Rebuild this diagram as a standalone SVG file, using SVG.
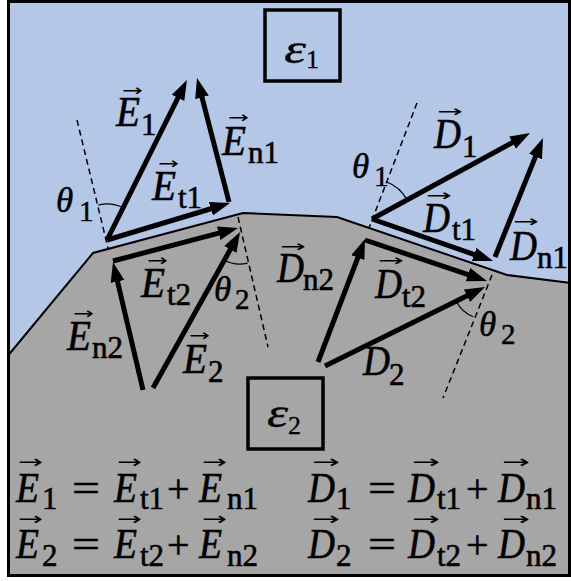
<svg xmlns="http://www.w3.org/2000/svg" width="571" height="581" viewBox="0 0 571 581">
<style>
.m{font-family:"Liberation Serif","DejaVu Serif",serif;font-style:italic;font-size:43px;fill:#000;stroke:#000;stroke-width:0.6}
.t{font-family:"Liberation Serif","DejaVu Serif",serif;font-style:italic;font-size:35px;fill:#000;stroke:#000;stroke-width:0.5}
.s{font-family:"Liberation Serif","DejaVu Serif",serif;font-style:normal;font-size:31px}
.a{font-family:"DejaVu Sans","Liberation Sans",sans-serif;font-style:normal;font-size:16px;stroke:none}
.a2{font-family:"DejaVu Sans","Liberation Sans",sans-serif;font-style:normal;font-size:18px;stroke:none}
.O{font-family:"Liberation Serif","DejaVu Serif",serif;font-style:normal;font-size:40px;fill:#000;stroke:#000;stroke-width:0.5}
.vec{stroke:#000;stroke-width:5;fill:none;marker-end:url(#ah)}
.dash{stroke:#000;stroke-width:1.5;stroke-dasharray:6 4;fill:none}
.arc{stroke:#000;stroke-width:1.2;fill:none}
.box{fill:none;stroke:#000;stroke-width:3.5}
</style>
<defs>
<marker id="ah" markerUnits="userSpaceOnUse" markerWidth="22" markerHeight="16" refX="8" refY="7" orient="auto">
<path d="M0,0 L20,7 L0,14 z" fill="#000"/>
</marker>
</defs>
<rect x="8.5" y="1.5" width="561" height="574" fill="#b4c7e7"/>
<polygon points="8.5,355 93,253 243,213 337,217 507,275 571,283 571,576 8.5,576" fill="#a6a6a6" stroke="none"/>
<polyline points="8.5,355 93,253 243,213 337,217 507,275 571,283" fill="none" stroke="#000" stroke-width="2"/>
<rect x="8.5" y="1.5" width="561" height="574" fill="none" stroke="#000" stroke-width="3"/>

<g id="eps1">
<rect class="box" x="265" y="10" width="75" height="71"/>
<text class="m" style="font-size:43px;stroke-width:0.3"><tspan x="284" y="63" textLength="22" lengthAdjust="spacingAndGlyphs">ε</tspan><tspan class="s" x="306" y="68" style="font-size:26px">1</tspan></text>
</g>
<g id="eps2">
<rect class="box" x="248" y="378" width="75" height="71"/>
<text class="m" style="font-size:43px;stroke-width:0.3"><tspan x="267" y="427" textLength="21" lengthAdjust="spacingAndGlyphs">ε</tspan><tspan class="s" x="288" y="434" style="font-size:26px">2</tspan></text>
</g>

<g id="guides">
<line class="dash" x1="77" y1="120" x2="108" y2="248"/>
<line class="dash" x1="238" y1="217" x2="268" y2="347"/>
<line class="dash" x1="417" y1="103" x2="369" y2="228"/>
<line class="dash" x1="492" y1="275" x2="443" y2="398"/>
<path class="arc" d="M98.3,205.1 A36,36 0 0 1 123.1,207.8"/>
<path class="arc" d="M223.4,259.7 A34,34 0 0 0 247.6,263.1"/>
<path class="arc" d="M386.4,181.7 A40,40 0 0 1 407.1,199.9"/>
<path class="arc" d="M456.3,301.2 A32,32 0 0 0 473.2,316.7"/>
</g>

<g id="connectors">
<line id="E1" class="vec" x1="107" y1="240" x2="181.6" y2="90.7"/>
<line id="En1" class="vec" x1="229" y1="202" x2="200" y2="89.6"/>
<line id="Et1" class="vec" x1="107" y1="240" x2="218.5" y2="206.5"/>
<line id="Et2" class="vec" x1="113" y1="261" x2="226.4" y2="231.1"/>
<line id="En2" class="vec" x1="143" y1="390" x2="115.7" y2="273.7"/>
<line id="E2" class="vec" x1="153" y1="388" x2="234.2" y2="242.5"/>
<line id="D1" class="vec" x1="372" y1="219" x2="519.5" y2="138.7"/>
<line id="Dn1" class="vec" x1="495" y1="257" x2="538.5" y2="149.1"/>
<line id="Dt1" class="vec" x1="372" y1="219" x2="481.7" y2="257.1"/>
<line id="Dn2" class="vec" x1="318" y1="362" x2="360.7" y2="250.2"/>
<line id="Dt2" class="vec" x1="365" y1="240" x2="475.6" y2="277.2"/>
<line id="D2" class="vec" x1="325" y1="366" x2="474.2" y2="292.3"/>
</g>

<g id="labels">
<text id="lE1" class="m"><tspan class="a" x="122" y="96" textLength="21" lengthAdjust="spacingAndGlyphs">→</tspan><tspan x="116" y="126" textLength="24" lengthAdjust="spacingAndGlyphs">E</tspan><tspan class="s" x="141" y="135">1</tspan></text>
<text id="lEn1" class="m"><tspan class="a" x="228" y="123" textLength="21" lengthAdjust="spacingAndGlyphs">→</tspan><tspan x="222" y="155" textLength="24" lengthAdjust="spacingAndGlyphs">E</tspan><tspan class="s" x="248" y="163">n1</tspan></text>
<text id="lEt1" class="m"><tspan class="a" x="158" y="169" textLength="21" lengthAdjust="spacingAndGlyphs">→</tspan><tspan x="152" y="200" textLength="24" lengthAdjust="spacingAndGlyphs">E</tspan><tspan class="s" x="178" y="208">t1</tspan></text>
<text id="lth1L" class="t"><tspan x="56" y="212">θ</tspan><tspan class="s" x="79" y="221" style="font-size:29px">1</tspan></text>
<text id="lEt2" class="m"><tspan class="a" x="147" y="266" textLength="21" lengthAdjust="spacingAndGlyphs">→</tspan><tspan x="141" y="297" textLength="24" lengthAdjust="spacingAndGlyphs">E</tspan><tspan class="s" x="167" y="305">t2</tspan></text>
<text id="lth2L" class="t"><tspan x="214" y="301">θ</tspan><tspan class="s" x="235" y="309" style="font-size:29px">2</tspan></text>
<text id="lEn2" class="m"><tspan class="a" x="73" y="319" textLength="21" lengthAdjust="spacingAndGlyphs">→</tspan><tspan x="67" y="350" textLength="24" lengthAdjust="spacingAndGlyphs">E</tspan><tspan class="s" x="92" y="358">n2</tspan></text>
<text id="lE2" class="m"><tspan class="a" x="189" y="341" textLength="21" lengthAdjust="spacingAndGlyphs">→</tspan><tspan x="183" y="373" textLength="24" lengthAdjust="spacingAndGlyphs">E</tspan><tspan class="s" x="208" y="382">2</tspan></text>
<text id="lD1" class="m"><tspan class="a" x="437" y="117" textLength="26" lengthAdjust="spacingAndGlyphs">→</tspan><tspan x="434" y="148" textLength="27" lengthAdjust="spacingAndGlyphs">D</tspan><tspan class="s" x="462" y="157">1</tspan></text>
<text id="lth1R" class="t"><tspan x="352" y="178">θ</tspan><tspan class="s" x="374" y="186" style="font-size:29px">1</tspan></text>
<text id="lDt1" class="m"><tspan class="a" x="426" y="201" textLength="26" lengthAdjust="spacingAndGlyphs">→</tspan><tspan x="423" y="232" textLength="27" lengthAdjust="spacingAndGlyphs">D</tspan><tspan class="s" x="452" y="240">t1</tspan></text>
<text id="lDn1" class="m"><tspan class="a" x="513" y="227" textLength="26" lengthAdjust="spacingAndGlyphs">→</tspan><tspan x="510" y="260" textLength="27" lengthAdjust="spacingAndGlyphs">D</tspan><tspan class="s" x="537" y="268">n1</tspan></text>
<text id="lDn2" class="m"><tspan class="a" x="280" y="252" textLength="26" lengthAdjust="spacingAndGlyphs">→</tspan><tspan x="277" y="282" textLength="27" lengthAdjust="spacingAndGlyphs">D</tspan><tspan class="s" x="303" y="290">n2</tspan></text>
<text id="lDt2" class="m"><tspan class="a" x="378" y="266" textLength="26" lengthAdjust="spacingAndGlyphs">→</tspan><tspan x="375" y="298" textLength="27" lengthAdjust="spacingAndGlyphs">D</tspan><tspan class="s" x="402" y="307">t2</tspan></text>
<text id="lth2R" class="t"><tspan x="479" y="336">θ</tspan><tspan class="s" x="501" y="344" style="font-size:29px">2</tspan></text>
<text id="lD2" class="m"><tspan x="363" y="375" textLength="27" lengthAdjust="spacingAndGlyphs">D</tspan><tspan class="s" x="389" y="385">2</tspan></text>
</g>

<g id="equations">
<text class="m"><tspan class="a2" x="18" y="468" textLength="25" lengthAdjust="spacingAndGlyphs">→</tspan><tspan x="16" y="502" textLength="23" lengthAdjust="spacingAndGlyphs">E</tspan><tspan class="s" x="42" y="509">1</tspan></text>
<text class="O" x="72" y="502" textLength="28" lengthAdjust="spacingAndGlyphs">=</text>
<text class="m"><tspan class="a2" x="117" y="468" textLength="25" lengthAdjust="spacingAndGlyphs">→</tspan><tspan x="114" y="502" textLength="23" lengthAdjust="spacingAndGlyphs">E</tspan><tspan class="s" x="140" y="509">t1</tspan></text>
<text class="O" x="167" y="502">+</text>
<text class="m"><tspan class="a2" x="202" y="468" textLength="25" lengthAdjust="spacingAndGlyphs">→</tspan><tspan x="199" y="502" textLength="23" lengthAdjust="spacingAndGlyphs">E</tspan><tspan class="s" x="227" y="509">n1</tspan></text>
<text class="m"><tspan class="a2" x="312" y="468" textLength="28" lengthAdjust="spacingAndGlyphs">→</tspan><tspan x="308" y="502" textLength="27" lengthAdjust="spacingAndGlyphs">D</tspan><tspan class="s" x="336" y="509">1</tspan></text>
<text class="O" x="368" y="502" textLength="28" lengthAdjust="spacingAndGlyphs">=</text>
<text class="m"><tspan class="a2" x="412" y="468" textLength="28" lengthAdjust="spacingAndGlyphs">→</tspan><tspan x="408" y="502" textLength="27" lengthAdjust="spacingAndGlyphs">D</tspan><tspan class="s" x="437" y="509">t1</tspan></text>
<text class="O" x="466" y="502">+</text>
<text class="m"><tspan class="a2" x="502" y="468" textLength="28" lengthAdjust="spacingAndGlyphs">→</tspan><tspan x="498" y="502" textLength="27" lengthAdjust="spacingAndGlyphs">D</tspan><tspan class="s" x="526" y="509">n1</tspan></text>

<text class="m"><tspan class="a2" x="18" y="525" textLength="25" lengthAdjust="spacingAndGlyphs">→</tspan><tspan x="16" y="558" textLength="23" lengthAdjust="spacingAndGlyphs">E</tspan><tspan class="s" x="42" y="566">2</tspan></text>
<text class="O" x="72" y="558" textLength="28" lengthAdjust="spacingAndGlyphs">=</text>
<text class="m"><tspan class="a2" x="117" y="525" textLength="25" lengthAdjust="spacingAndGlyphs">→</tspan><tspan x="114" y="558" textLength="23" lengthAdjust="spacingAndGlyphs">E</tspan><tspan class="s" x="140" y="566">t2</tspan></text>
<text class="O" x="167" y="558">+</text>
<text class="m"><tspan class="a2" x="202" y="525" textLength="25" lengthAdjust="spacingAndGlyphs">→</tspan><tspan x="199" y="558" textLength="23" lengthAdjust="spacingAndGlyphs">E</tspan><tspan class="s" x="227" y="566">n2</tspan></text>
<text class="m"><tspan class="a2" x="312" y="525" textLength="28" lengthAdjust="spacingAndGlyphs">→</tspan><tspan x="308" y="558" textLength="27" lengthAdjust="spacingAndGlyphs">D</tspan><tspan class="s" x="336" y="566">2</tspan></text>
<text class="O" x="368" y="558" textLength="28" lengthAdjust="spacingAndGlyphs">=</text>
<text class="m"><tspan class="a2" x="412" y="525" textLength="28" lengthAdjust="spacingAndGlyphs">→</tspan><tspan x="408" y="558" textLength="27" lengthAdjust="spacingAndGlyphs">D</tspan><tspan class="s" x="437" y="566">t2</tspan></text>
<text class="O" x="466" y="558">+</text>
<text class="m"><tspan class="a2" x="502" y="525" textLength="28" lengthAdjust="spacingAndGlyphs">→</tspan><tspan x="498" y="558" textLength="27" lengthAdjust="spacingAndGlyphs">D</tspan><tspan class="s" x="526" y="566">n2</tspan></text>
</g>
</svg>
